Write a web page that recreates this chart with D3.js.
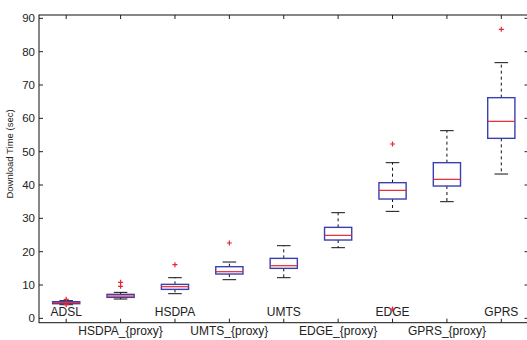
<!DOCTYPE html>
<html>
<head>
<meta charset="utf-8">
<script src="https://cdn.jsdelivr.net/npm/d3@7"></script>
<style>
  body { margin: 0; background: #fff; }
  svg { display: block; font-family: "Liberation Sans", Arial, sans-serif; }
</style>
</head>
<body>
<svg id="chart" width="527" height="340"></svg>
<script>
// data
const cats = ["ADSL", "HSDPA_{proxy}", "HSDPA", "UMTS_{proxy}", "UMTS", "EDGE_{proxy}", "EDGE", "GPRS_{proxy}", "GPRS"];
const whiskerLow = [4.1, 5.8, 7.4, 11.6, 12.2, 21.2, 32.1, 35.0, 43.3];
const q1 = [4.4, 6.3, 8.7, 13.3, 15.0, 23.5, 35.8, 39.7, 54.0];
const medians = [4.7, 6.7, 9.5, 14.0, 15.8, 24.9, 38.4, 41.7, 59.1];
const q3 = [5.0, 7.2, 10.2, 15.5, 18.0, 27.3, 40.7, 46.7, 66.2];
const whiskerHigh = [5.3, 7.8, 12.2, 16.9, 21.8, 31.7, 46.7, 56.3, 76.7];
const outliers = [[5.7, 4.1], [10.8, 9.6], [16.1], [22.6], [], [], [52.3, 2.8], [], [86.7]];
const yTicks = [0, 10, 20, 30, 40, 50, 60, 70, 80, 90];

const svg = d3.select("#chart");
const x = d3.scaleLinear().domain([0.5, cats.length + 0.5]).range([39, 528.5]);
const y = d3.scaleLinear().domain([-1.3, 91]).range([322.7, 15]);
const boxW = (x(1) - x(0)) * 0.5;
const capW = boxW * 0.5;
const pos = i => x(i + 1);

const boxes = cats.map((c, i) => ({
  i, lo: whiskerLow[i], q1: q1[i], med: medians[i], q3: q3[i], hi: whiskerHigh[i], out: outliers[i]
}));

// frame
const [x0, x1] = x.range();
const [yb, yt] = y.range();
svg.append("rect")
  .attr("x", x0).attr("y", yt).attr("width", x1 - x0).attr("height", yb - yt)
  .attr("fill", "none").attr("stroke", "#111").attr("stroke-width", 1);

// y ticks on left and right, x ticks top and bottom
const tk = svg.append("g").attr("stroke", "#222").attr("stroke-width", 1);
yTicks.forEach(v => {
  tk.append("line").attr("x1", x0).attr("x2", x0 + 4).attr("y1", y(v)).attr("y2", y(v));
  tk.append("line").attr("x1", x1 - 4).attr("x2", x1).attr("y1", y(v)).attr("y2", y(v));
});
cats.forEach((c, i) => {
  tk.append("line").attr("x1", pos(i)).attr("x2", pos(i)).attr("y1", yt).attr("y2", yt + 4);
  tk.append("line").attr("x1", pos(i)).attr("x2", pos(i)).attr("y1", yb).attr("y2", yb - 4);
});

svg.append("g").selectAll("text").data(yTicks).join("text")
  .attr("x", 35).attr("y", d => y(d) + 4)
  .attr("text-anchor", "end").attr("font-size", 11.5).attr("fill", "#222")
  .text(d => d);

svg.append("text")
  .attr("transform", "translate(13,154) rotate(-90)")
  .attr("text-anchor", "middle").attr("font-size", 9.5).attr("fill", "#222")
  .text("Download Time (sec)");

// category labels, alternating heights
svg.append("g").selectAll("text").data(cats).join("text")
  .attr("x", (d, i) => pos(i))
  .attr("y", (d, i) => i % 2 === 0 ? 316 : 335)
  .attr("text-anchor", "middle").attr("font-size", 12).attr("fill", "#222")
  .text(d => d);

// boxes
const g = svg.append("g").selectAll("g").data(boxes).join("g");

g.append("line")
  .attr("x1", d => pos(d.i)).attr("x2", d => pos(d.i))
  .attr("y1", d => y(d.q3)).attr("y2", d => y(d.hi))
  .attr("stroke", "#111").attr("stroke-dasharray", "3,3");
g.append("line")
  .attr("x1", d => pos(d.i)).attr("x2", d => pos(d.i))
  .attr("y1", d => y(d.q1)).attr("y2", d => y(d.lo))
  .attr("stroke", "#111").attr("stroke-dasharray", "3,3");
g.append("line")
  .attr("x1", d => pos(d.i) - capW / 2).attr("x2", d => pos(d.i) + capW / 2)
  .attr("y1", d => y(d.hi)).attr("y2", d => y(d.hi))
  .attr("stroke", "#111");
g.append("line")
  .attr("x1", d => pos(d.i) - capW / 2).attr("x2", d => pos(d.i) + capW / 2)
  .attr("y1", d => y(d.lo)).attr("y2", d => y(d.lo))
  .attr("stroke", "#111");
g.append("rect")
  .attr("x", d => pos(d.i) - boxW / 2).attr("width", boxW)
  .attr("y", d => y(d.q3)).attr("height", d => y(d.q1) - y(d.q3))
  .attr("fill", "#fff").attr("stroke", "#3a40b0").attr("stroke-width", 1.4);
g.append("line")
  .attr("x1", d => pos(d.i) - boxW / 2).attr("x2", d => pos(d.i) + boxW / 2)
  .attr("y1", d => y(d.med)).attr("y2", d => y(d.med))
  .attr("stroke", "#e8262f").attr("stroke-width", 1.2);

// outliers
g.selectAll("path.out").data(d => d.out.map(v => ({ v, i: d.i }))).join("path")
  .attr("class", "out")
  .attr("d", d => {
    const cx = pos(d.i), cy = y(d.v);
    return `M${cx - 2.5},${cy}H${cx + 2.5}M${cx},${cy - 2.5}V${cy + 2.5}`;
  })
  .attr("stroke", "#e8262f").attr("stroke-width", 1.2);
</script>
</body>
</html>
